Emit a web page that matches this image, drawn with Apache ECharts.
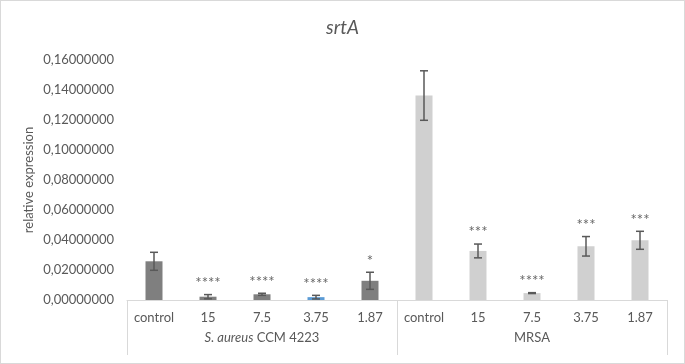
<!DOCTYPE html>
<html>
<head>
<meta charset="utf-8">
<script src="https://cdn.jsdelivr.net/npm/echarts@6/dist/echarts.min.js"></script>
<style>
html, body { margin: 0; padding: 0; background: #fff; }
#chart { width: 685px; height: 364px; box-sizing: border-box; border: 1px solid #d9d9d9; }
</style>
</head>
<body>
<div id="chart"></div>
<script>
// data
const categories = ['control', '15', '7.5', '3.75', '1.87', 'control', '15', '7.5', '3.75', '1.87'];
const groups = ['S. aureus CCM 4223', 'MRSA'];
const values = [0.0258, 0.0022, 0.0038, 0.0019, 0.0128, 0.1363, 0.0327, 0.0046, 0.0358, 0.0398];
const errors = [0.0060, 0.0014, 0.0007, 0.0012, 0.0057, 0.0165, 0.0046, 0.0003, 0.0065, 0.0060];
const stars = ['', '****', '****', '****', '*', '', '***', '****', '***', '***'];
const yTicks = [0, 0.16, 0.02];

const textColor = '#595959';
const lineColor = '#d9d9d9';
const font = 'Lato, "Open Sans", sans-serif';

function barColor(i) {
  if (i === 3) return '#5b9bd5';
  return i < 5 ? '#7f7f7f' : '#d0d0d0';
}

const chart = echarts.init(document.getElementById('chart'));

const option = {
  animation: false,
  textStyle: { fontFamily: font },
  title: {
    text: 'srtA',
    left: 'center',
    top: 12,
    textStyle: { fontFamily: font, fontSize: 19, fontStyle: 'italic', fontWeight: 'normal', color: textColor }
  },
  grid: { left: 126, right: 17, top: 59, bottom: 63 },
  xAxis: [{
    type: 'category',
    data: categories,
    axisLine: { lineStyle: { color: lineColor } },
    axisTick: { show: false },
    axisLabel: { color: textColor, fontSize: 13, margin: 11, interval: 0 }
  }, {
    type: 'category',
    data: groups,
    position: 'bottom',
    offset: 0,
    axisLine: { show: false },
    axisTick: { show: true, length: 55, lineStyle: { color: lineColor } },
    axisLabel: {
      margin: 31,
      interval: 0,
      color: textColor,
      fontSize: 13,
      formatter: function (v) {
        if (v.indexOf('S. aureus') === 0) return '{i|S. aureus}' + v.slice(9);
        return v;
      },
      rich: { i: { fontStyle: 'italic', fontSize: 13, color: textColor, fontFamily: font } }
    }
  }],
  yAxis: {
    type: 'value',
    min: yTicks[0],
    max: yTicks[1],
    interval: yTicks[2],
    name: 'relative expression',
    nameLocation: 'middle',
    nameGap: 92,
    nameMoveOverlap: false,
    nameTextStyle: { color: textColor, fontSize: 13, fontFamily: font },
    axisLine: { show: false },
    axisTick: { show: false },
    splitLine: { show: false },
    axisLabel: {
      color: textColor,
      fontSize: 13,
      margin: 13,
      formatter: v => v.toFixed(8).replace('.', ',')
    }
  },
  series: [{
    type: 'bar',
    barWidth: 17,
    data: values.map((v, i) => ({ value: v, itemStyle: { color: barColor(i) } }))
  }, {
    type: 'custom',
    z: 5,
    encode: { x: 0, y: 1 },
    data: values.map((v, i) => [i, v, errors[i]]),
    renderItem: function (params, api) {
      const x = api.value(0), v = api.value(1), e = api.value(2);
      const top = api.coord([x, v + e]);
      const bot = api.coord([x, v - e]);
      const hw = 4;
      const st = { stroke: '#595959', lineWidth: 1.5 };
      const children = [
        { type: 'line', shape: { x1: top[0], y1: top[1], x2: bot[0], y2: bot[1] }, style: st },
        { type: 'line', shape: { x1: top[0] - hw, y1: top[1], x2: top[0] + hw, y2: top[1] }, style: st },
        { type: 'line', shape: { x1: bot[0] - hw, y1: bot[1], x2: bot[0] + hw, y2: bot[1] }, style: st }
      ];
      const s = stars[params.dataIndex];
      if (s) {
        children.push({
          type: 'text',
          style: {
            x: top[0], y: top[1] - 4, text: s,
            align: 'center', verticalAlign: 'bottom',
            fill: '#666666', font: '15px ' + font
          }
        });
      }
      return { type: 'group', children: children };
    }
  }]
};

chart.setOption(option, true);
</script>
</body>
</html>
